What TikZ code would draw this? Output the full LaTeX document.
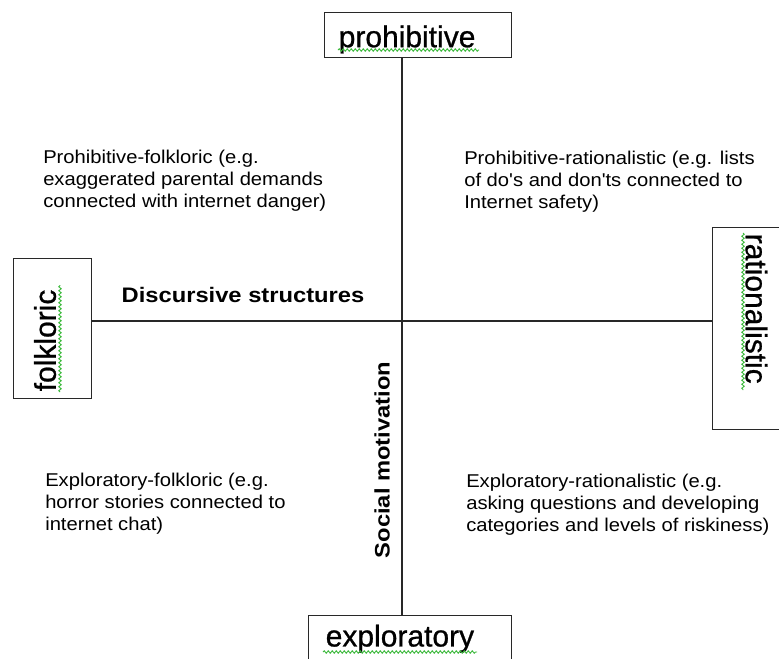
\documentclass[tikz,border=0pt]{standalone}
\usepackage{fontspec}
\setmainfont{Liberation Sans}
\newfontfamily\quadfont[FakeStretch=1.09]{Liberation Sans}
\newfontfamily\axisfont[FakeStretch=1.13]{Liberation Sans}
\newfontfamily\boxfont[FakeBold=0.8]{Liberation Sans}
\usetikzlibrary{decorations.pathmorphing}
\definecolor{linegray}{RGB}{40,40,40}
\definecolor{squiggreen}{RGB}{60,185,60}
\begin{document}
\begin{tikzpicture}[x=0.75pt,y=-0.75pt,
  axisline/.style={draw=linegray, line width=1.1pt},
  boxlbl/.style={draw=linegray, line width=1.1pt, font=\boxfont\fontsize{22.5pt}{27pt}\selectfont, inner ysep=0pt, align=left},
  quad/.style={font=\quadfont\fontsize{13.9pt}{16.5pt}\selectfont, align=left, anchor=north west, inner sep=0pt},
  axislbl/.style={font=\axisfont\bfseries\fontsize{15.75pt}{18pt}\selectfont, inner sep=0pt},
  squig/.style={draw=squiggreen, line width=0.7pt, decorate, decoration={snake, amplitude=0.9pt, segment length=3pt}}]
\useasboundingbox (0,0) rectangle (779,658);
\clip (0,0) rectangle (779,658);
\fill[white] (0,0) rectangle (779,658);

\coordinate (c) at (402,321);

\node[boxlbl, anchor=north west, inner xsep=10.5pt, text width=119.25pt, inner ysep=7.1pt, text height=18.75pt, text depth=0.75pt] (pro) at (324,12) {prohibitive};
\node[boxlbl, anchor=north west, inner xsep=12.75pt, text width=126.75pt, inner ysep=4.3pt, text height=18.75pt, text depth=15pt] (exp) at (308,615) {exploratory};
\node[boxlbl, rotate=90, anchor=south west, inner xsep=5.25pt, text width=94.5pt, text depth=26.6pt, text height=31.9pt] (folk) at (92,399) {folkloric};
\node[boxlbl, rotate=-90, anchor=south west, inner xsep=4.5pt, text width=142.5pt, text depth=24.75pt, text height=45pt] (rat) at (712,227) {rationalistic};

\draw[axisline] (c |- pro.south) -- (c |- exp.north);
\draw[axisline] (folk.south |- c) -- (rat.south |- c);

\draw[squig] (338,50) -- (479,50);
\draw[squig] (323,652) -- (477,652);
\draw[squig] (60,392) -- (60,285);
\draw[squig] (743,233) -- (743,390);

\node[quad] (tl) at (43,150) {Prohibitive-folkloric (e.g.\\exaggerated parental demands\\connected with internet danger)};
\node[quad] (tr) at (464,151) {Prohibitive-rationalistic (e.g. lists\\of do's and don'ts connected to\\Internet safety)};
\node[quad] (bl) at (45,473) {Exploratory-folkloric (e.g.\\horror stories connected to\\internet chat)};
\node[quad] (br) at (466,474) {Exploratory-rationalistic (e.g.\\asking questions and developing\\categories and levels of riskiness)};

\node[axislbl] (disc) at (243,295) {Discursive structures};
\node[axislbl, rotate=90] (soc) at (382,460) {Social motivation};
\end{tikzpicture}
\end{document}
